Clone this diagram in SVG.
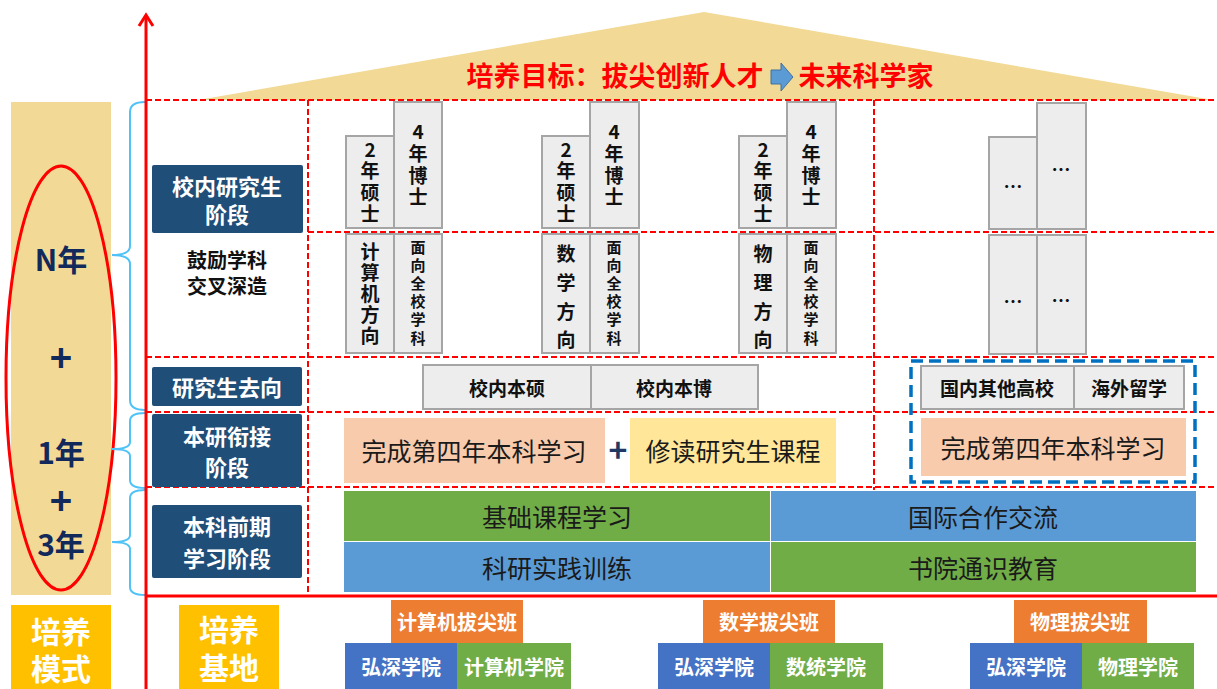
<svg xmlns="http://www.w3.org/2000/svg" width="1217" height="689" viewBox="0 0 1217 689">
<defs>
<style>
text{font-family:"Noto Sans CJK SC","Noto Sans",sans-serif;text-anchor:middle;dominant-baseline:central}
.v{writing-mode:vertical-rl;text-orientation:upright}
.dash{stroke:#FF0000;stroke-width:2;stroke-dasharray:6 3;fill:none}
.dark{fill:#1F4E79}
.dt{fill:#FFFFFF;font-weight:bold;font-size:22px}
.grey{fill:#EDEDED;stroke:#A5A5A5;stroke-width:2}
.gt{fill:#111111;font-weight:bold;font-size:19px}
.gs{fill:#111111;font-weight:bold;font-size:15px}
.big{fill:#1A1A1A;font-size:25px}
.wt{fill:#FFFFFF;font-weight:bold;font-size:20px}
.yr{fill:#12295B;font-weight:bold;font-size:30px}
.pl{fill:#12295B;font-weight:bold;font-size:38px}
.mt{fill:#FFFFFF;font-weight:bold;font-size:30px}
.brace{fill:none;stroke:#4FC3F7;stroke-width:2}
</style>
</defs>
<rect width="1217" height="689" fill="#FFFFFF"/>

<g id="roof">
<polygon points="198,100 704,12 1213,100" fill="#F2DA96"/>
<text x="615" y="74" fill="#FF0000" font-weight="bold" font-size="27">培养目标：拔尖创新人才</text>
<polygon points="771,70 781,70 781,63 793,77 781,91 781,84 771,84" fill="#5B9BD5" stroke="#41719C" stroke-width="1"/>
<text x="866" y="74" fill="#FF0000" font-weight="bold" font-size="27">未来科学家</text>
</g>

<g id="grid">
<line class="dash" x1="146" y1="100" x2="1217" y2="100"/>
<line class="dash" x1="308" y1="232" x2="1217" y2="232"/>
<line class="dash" x1="146" y1="357" x2="1217" y2="357"/>
<line class="dash" x1="146" y1="412" x2="1217" y2="412"/>
<line class="dash" x1="146" y1="487" x2="1217" y2="487"/>
<line class="dash" x1="308" y1="100" x2="308" y2="595"/>
<line class="dash" x1="874" y1="100" x2="874" y2="490" stroke-width="1.5"/>
<line x1="146" y1="596" x2="1217" y2="596" stroke="#FF0000" stroke-width="3"/>
</g>

<g id="years">
<rect x="11" y="102" width="100" height="493" fill="#F2DA96"/>
<text class="yr" x="61" y="258">N年</text>
<text class="pl" x="61" y="355">+</text>
<text class="yr" x="61" y="451">1年</text>
<text class="pl" x="61" y="498">+</text>
<text class="yr" x="61" y="543">3年</text>
<ellipse cx="61" cy="378" rx="55" ry="212" fill="none" stroke="#FF0000" stroke-width="3"/>
</g>

<g id="connectors">
<path class="brace" d="M145,102 Q130,102 130,112 L130,246 Q130,255 112,255 Q130,255 130,264 L130,400 Q130,410 145,410"/>
<path class="brace" d="M145,413 Q130,413 130,421 L130,442 Q130,449 112,449 Q130,449 130,456 L130,480 Q130,488 145,488"/>
<path class="brace" d="M145,490 Q130,490 130,498 L130,535 Q130,542 112,542 Q130,542 130,549 L130,587 Q130,595 145,595"/>
<line x1="146" y1="16" x2="146" y2="689" stroke="#FF0000" stroke-width="3"/>
<polyline points="139,26 146,15 153,26" fill="none" stroke="#FF0000" stroke-width="3"/>
</g>

<g id="stage-grad">
<rect class="dark" x="152" y="165" width="151" height="68" rx="2"/>
<text class="dt"><tspan x="227" y="185">校内研究生</tspan><tspan x="227" y="213">阶段</tspan></text>
<text font-size="20" font-weight="bold" fill="#111111"><tspan x="227" y="259">鼓励学科</tspan><tspan x="227" y="285">交叉深造</tspan></text>
</g>

<g id="col-cs">
<rect class="grey" x="346" y="136" width="48" height="92"/>
<rect class="grey" x="394" y="102" width="48" height="126"/>
<rect class="grey" x="346" y="234" width="48" height="119"/>
<rect class="grey" x="394" y="234" width="48" height="119"/>
<text class="gt v" x="370" y="183" letter-spacing="2.5">2年硕士</text>
<text class="gt v" x="418" y="166" letter-spacing="2.7">4年博士</text>
<text class="gt v" x="370" y="295" font-size="20" letter-spacing="2">计算机方向</text>
<text class="gs v" x="418" y="294" letter-spacing="3.2">面向全校学科</text>
</g>

<g id="col-math">
<rect class="grey" x="542" y="136" width="48" height="92"/>
<rect class="grey" x="590" y="102" width="49" height="126"/>
<rect class="grey" x="542" y="234" width="48" height="119"/>
<rect class="grey" x="590" y="234" width="49" height="119"/>
<text class="gt v" x="566" y="183" letter-spacing="2.5">2年硕士</text>
<text class="gt v" x="614" y="166" letter-spacing="2.7">4年博士</text>
<text class="gt v" x="566" y="302" font-size="20" letter-spacing="9.7">数学方向</text>
<text class="gs v" x="614" y="294" letter-spacing="3.2">面向全校学科</text>
</g>

<g id="col-phys">
<rect class="grey" x="739" y="136" width="48" height="92"/>
<rect class="grey" x="787" y="102" width="49" height="126"/>
<rect class="grey" x="739" y="234" width="48" height="119"/>
<rect class="grey" x="787" y="234" width="49" height="119"/>
<text class="gt v" x="763" y="183" letter-spacing="2.5">2年硕士</text>
<text class="gt v" x="811" y="166" letter-spacing="2.7">4年博士</text>
<text class="gt v" x="763" y="302" font-size="20" letter-spacing="9.7">物理方向</text>
<text class="gs v" x="811" y="294" letter-spacing="3.2">面向全校学科</text>
</g>

<g id="col-other">
<rect class="grey" x="989" y="137" width="48" height="92"/>
<rect class="grey" x="1037" y="103" width="49" height="126"/>
<rect class="grey" x="989" y="235" width="48" height="119"/>
<rect class="grey" x="1037" y="235" width="49" height="119"/>
<text class="gt" x="1013" y="185">…</text>
<text class="gt" x="1061" y="168">…</text>
<text class="gt" x="1013" y="300">…</text>
<text class="gt" x="1061" y="299">…</text>
</g>

<g id="stage-dest">
<rect class="dark" x="152" y="367" width="150" height="39" rx="2"/>
<text class="dt" x="227" y="386">研究生去向</text>
<rect class="grey" x="423" y="365" width="168" height="44"/>
<rect class="grey" x="591" y="365" width="167" height="44"/>
<text class="gt" font-size="20" x="507" y="387">校内本硕</text>
<text class="gt" font-size="20" x="674" y="387">校内本博</text>
</g>

<g id="stage-bridge">
<rect class="dark" x="152" y="414" width="150" height="73" rx="2"/>
<text class="dt"><tspan x="227" y="435">本研衔接</tspan><tspan x="227" y="466">阶段</tspan></text>
<rect x="344" y="418" width="261" height="65" fill="#F8CBAD"/>
<text class="big" x="474" y="450">完成第四年本科学习</text>
<text x="618" y="448" fill="#203864" font-weight="bold" font-size="32">+</text>
<rect x="630" y="418" width="206" height="65" fill="#FFE699"/>
<text class="big" x="733" y="450">修读研究生课程</text>
</g>

<g id="abroad">
<rect class="grey" x="921" y="366" width="153" height="43"/>
<rect class="grey" x="1074" y="366" width="110" height="43"/>
<text class="gt" font-size="20" x="997" y="387">国内其他高校</text>
<text class="gt" font-size="20" x="1129" y="387">海外留学</text>
<rect x="921" y="418" width="265" height="58" fill="#F8CBAD"/>
<text class="big" x="1053" y="447">完成第四年本科学习</text>
<rect x="911" y="361" width="284" height="121" fill="none" stroke="#0070C0" stroke-width="3.5" stroke-dasharray="12 6"/>
</g>

<g id="stage-undergrad">
<rect class="dark" x="152" y="505" width="150" height="73" rx="2"/>
<text class="dt"><tspan x="227" y="525">本科前期</tspan><tspan x="227" y="557">学习阶段</tspan></text>
<rect x="344" y="491" width="426" height="50" fill="#70AD47"/>
<rect x="771" y="491" width="425" height="50" fill="#5B9BD5"/>
<rect x="344" y="542" width="426" height="50" fill="#5B9BD5"/>
<rect x="771" y="542" width="425" height="50" fill="#70AD47"/>
<text class="big" x="557" y="516">基础课程学习</text>
<text class="big" x="983" y="516">国际合作交流</text>
<text class="big" x="557" y="567">科研实践训练</text>
<text class="big" x="983" y="567">书院通识教育</text>
</g>

<g id="mode">
<rect x="11" y="605" width="100" height="84" fill="#FFC000"/>
<text class="mt"><tspan x="61" y="630">培养</tspan><tspan x="61" y="667">模式</tspan></text>
<rect x="179" y="605" width="100" height="84" fill="#FFC000"/>
<text class="mt"><tspan x="229" y="628">培养</tspan><tspan x="229" y="666">基地</tspan></text>
</g>

<g id="base-cs">
<rect x="391" y="600" width="132" height="43" fill="#ED7D31"/>
<text class="wt" font-size="18" x="457" y="621">计算机拔尖班</text>
<rect x="345" y="643" width="112" height="46" fill="#4472C4"/>
<rect x="457" y="643" width="114" height="46" fill="#70AD47"/>
<text class="wt" x="401" y="666">弘深学院</text>
<text class="wt" x="514" y="666">计算机学院</text>
</g>

<g id="base-math">
<rect x="703" y="600" width="132" height="43" fill="#ED7D31"/>
<text class="wt" x="769" y="621">数学拔尖班</text>
<rect x="658" y="643" width="112" height="46" fill="#4472C4"/>
<rect x="770" y="643" width="113" height="46" fill="#70AD47"/>
<text class="wt" x="714" y="666">弘深学院</text>
<text class="wt" x="826" y="666">数统学院</text>
</g>

<g id="base-phys">
<rect x="1014" y="600" width="133" height="43" fill="#ED7D31"/>
<text class="wt" x="1080" y="621">物理拔尖班</text>
<rect x="970" y="643" width="112" height="46" fill="#4472C4"/>
<rect x="1082" y="643" width="112" height="46" fill="#70AD47"/>
<text class="wt" x="1026" y="666">弘深学院</text>
<text class="wt" x="1138" y="666">物理学院</text>
</g>
</svg>
